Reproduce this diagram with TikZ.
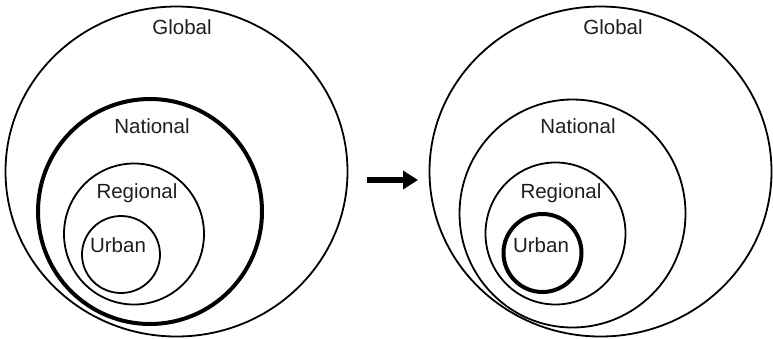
\documentclass[tikz,border=0pt]{standalone}
\usepackage{fontspec}
\setmainfont{Liberation Sans}
\usetikzlibrary{shapes.geometric,arrows.meta}
\begin{document}
\begin{tikzpicture}[x=1pt,y=-1pt,
  ring/.style={ellipse,draw=black,line width=1.8pt,inner sep=0pt},
  thickring/.style={ring,line width=4pt},
  lbl/.style={font=\fontsize{20.5}{24}\selectfont,text=black!88,inner sep=0pt}]
\useasboundingbox (0,0) rectangle (773,338);
% left panel
\node[ring,minimum width=342pt,minimum height=330pt] (gL) at (176.5,171.5) {};
\node[thickring,minimum width=224pt,minimum height=225pt] (nL) at (150,211.5) {};
\node[ring,minimum width=140pt,minimum height=141pt] (rL) at (134,234) {};
\node[ring,minimum width=78pt,minimum height=77pt] (uL) at (121,254.5) {};
\node[lbl] (tgL) at (182,27) {Global};
\node[lbl] (tnL) at (152,126) {National};
\node[lbl] (trL) at (137,193) {Regional};
\node[lbl] (tuL) at (118,245) {Urban};
% right panel
\node[ring,minimum width=342pt,minimum height=330pt] (gR) at (600.5,171.5) {};
\node[ring,minimum width=226pt,minimum height=228pt] (nR) at (572.5,213.5) {};
\node[ring,minimum width=140pt,minimum height=142pt] (rR) at (555.5,233.5) {};
\node[thickring,minimum width=78pt,minimum height=78pt] (uR) at (542.5,253) {};
\node[lbl] (tgR) at (613,27) {Global};
\node[lbl] (tnR) at (578,126) {National};
\node[lbl] (trR) at (561,193) {Regional};
\node[lbl] (tuR) at (541,245) {Urban};
% arrow
\coordinate (a1) at (367,180);
\coordinate (a2) at (418,180);
\draw[line width=6.5pt,-{Triangle[length=15pt,width=18pt]}] (a1) -- (a2);
\end{tikzpicture}
\end{document}
